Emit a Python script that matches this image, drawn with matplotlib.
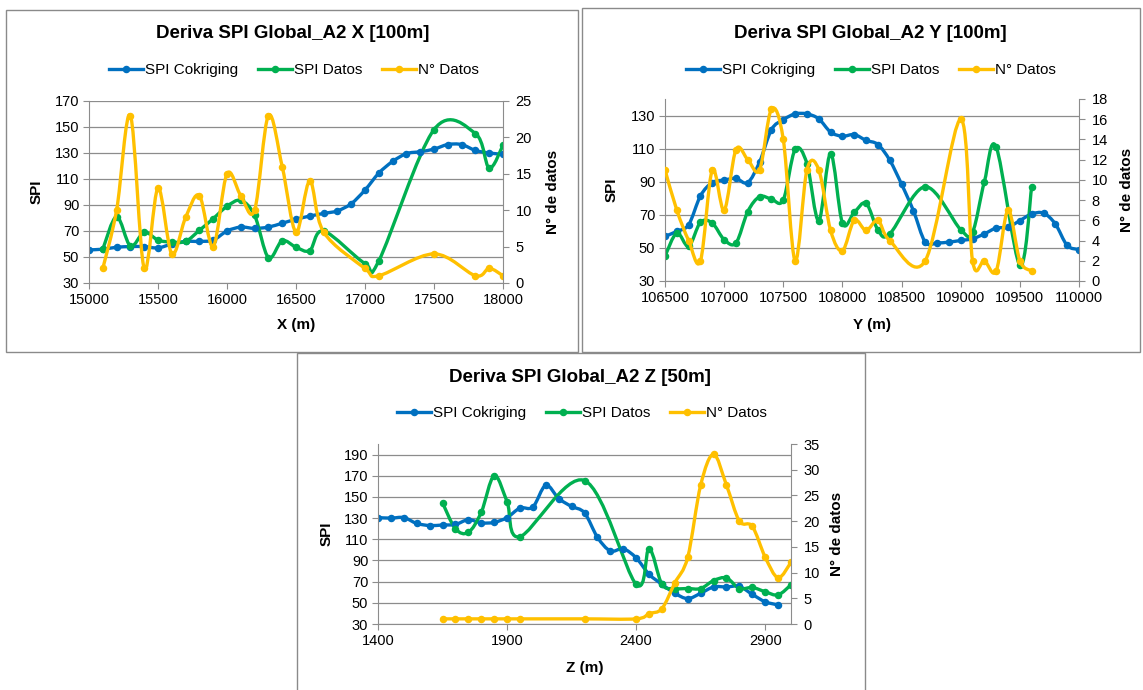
import numpy as np
import matplotlib
matplotlib.use('Agg')
import matplotlib.pyplot as plt
from matplotlib.path import Path
from matplotlib.patches import PathPatch, Rectangle
from matplotlib.lines import Line2D

plt.rcParams['font.family'] = ['Liberation Sans', 'DejaVu Sans']

BLUE = '#0070C0'
GREEN = '#00B050'
YELLOW = '#FFC000'
GRID = '#8c8c8c'
W, H = 1143, 690

# --- Deriva X [100m] ---
x_cok = [15000, 15100, 15200, 15300, 15400, 15500, 15600, 15700, 15800, 15900,
         16000, 16100, 16200, 16300, 16400, 16500, 16600, 16700, 16800, 16900,
         17000, 17100, 17200, 17300, 17400, 17500, 17600, 17700, 17800, 17900, 18000]
x_spi_cok = [55.5, 56, 57.5, 58, 58, 57, 60, 62, 62, 63,
             70, 73, 72, 73, 76, 79, 81.5, 83.5, 85.5, 91,
             101.5, 114.5, 123.5, 129.5, 131, 133, 136.5, 136.5, 132, 130, 129]
x_dat = [15100, 15200, 15300, 15400, 15500, 15600, 15700, 15800, 15900, 16000,
         16100, 16200, 16300, 16400, 16500, 16600, 16700, 17000, 17100, 17500,
         17800, 17900, 18000]
x_spi_dat = [56, 81, 58.5, 69, 63, 61.5, 62, 70.5, 79.5, 89,
             93.5, 82, 49.5, 62.5, 57.5, 55, 70, 45, 47, 148,
             145, 118.5, 136]
x_n_dat = [2, 10, 23, 2, 13, 4, 9, 12, 5, 15,
           12, 10, 23, 16, 7, 14, 7, 2, 1, 4,
           1, 2, 1]

# --- Deriva Y [100m] ---
y_cok = [106500, 106600, 106700, 106800, 106900, 107000, 107100, 107200, 107300, 107400,
         107500, 107600, 107700, 107800, 107900, 108000, 108100, 108200, 108300, 108400,
         108500, 108600, 108700, 108800, 108900, 109000, 109100, 109200, 109300, 109400,
         109500, 109600, 109700, 109800, 109900, 110000]
y_spi_cok = [57, 60, 64, 81.5, 89.5, 91, 92, 89.5, 102, 121.5,
             127.5, 131, 131, 128, 120, 117.5, 118.5, 115, 112.5, 103,
             88.5, 72.5, 53.5, 53, 53.5, 54.5, 55.5, 58.5, 62, 62.5,
             66.5, 70.5, 71, 64.5, 51.5, 49]
y_dat = [106500, 106600, 106700, 106800, 106900, 107000, 107100, 107200, 107300, 107400,
         107500, 107600, 107700, 107800, 107900, 108000, 108100, 108200, 108300, 108400,
         108700, 109000, 109100, 109200, 109300, 109500, 109600]
y_spi_dat = [45, 59, 51, 65.5, 65, 55, 53, 72, 81, 79.5,
             79, 109.5, 101, 66.5, 107, 65, 71.5, 77, 61, 58.5,
             87, 61, 59.5, 90, 111, 39.5, 87]
y_n_x = [106500, 106600, 106700, 106800, 106900, 107000, 107100, 107200, 107300, 107400,
         107500, 107600, 107700, 107800, 107900, 108000, 108100, 108200, 108300, 108400,
         108700, 109000, 109100, 109200, 109300, 109400, 109500, 109600]
y_n_dat = [11, 7, 4, 2, 11, 7, 13, 12, 11, 17,
           14, 2, 11, 11, 5, 3, 6, 5, 6, 4,
           2, 16, 2, 2, 1, 7, 2, 1]

# --- Deriva Z [50m] ---
z_cok = [1400, 1450, 1500, 1550, 1600, 1650, 1700, 1750, 1800, 1850,
         1900, 1950, 2000, 2050, 2100, 2150, 2200, 2250, 2300, 2350,
         2400, 2450, 2500, 2550, 2600, 2650, 2700, 2750, 2800, 2850, 2900, 2950]
z_spi_cok = [130.5, 130, 130.5, 125, 123, 123.5, 124, 128.5, 125.5, 126,
             130.5, 139.5, 140.5, 161, 148.5, 141, 135, 112, 99, 101,
             92.5, 77, 67.5, 59, 54, 59, 65, 65, 65.5, 58, 51, 48]
z_dat = [1650, 1700, 1750, 1800, 1850, 1900, 1950, 2200, 2400, 2450,
         2500, 2550, 2600, 2650, 2700, 2750, 2800, 2850, 2900, 2950, 3000]
z_spi_dat = [144.5, 120, 116.5, 135.5, 170, 145.5, 112.5, 165.5, 67.5, 101,
             67.5, 63.5, 63.5, 63.5, 71, 73.5, 63.5, 64.5, 60.5, 57.5, 67]
z_n_dat = [1, 1, 1, 1, 1, 1, 1, 1, 1, 2,
           3, 8, 13, 27, 33, 27, 20, 19, 13, 9, 12]


def smooth_path(xs, ys):
    # curva suavizada tipo Excel (Catmull-Rom -> Bezier)
    pts = np.column_stack([xs, ys]).astype(float)
    n = len(pts)
    verts = [pts[0]]
    codes = [Path.MOVETO]
    for i in range(n - 1):
        p0 = pts[i - 1] if i > 0 else pts[i]
        p1 = pts[i]
        p2 = pts[i + 1]
        p3 = pts[i + 2] if i + 2 < n else pts[i + 1]
        verts += [p1 + (p2 - p0) / 6.0, p2 - (p3 - p1) / 6.0, p2]
        codes += [Path.CURVE4] * 3
    return Path(verts, codes)


def draw_series(ax, xs, ys, color):
    ax.add_patch(PathPatch(smooth_path(xs, ys), facecolor='none', edgecolor=color,
                           lw=2.4, capstyle='round', joinstyle='round'))
    ax.plot(xs, ys, linestyle='none', marker='o', ms=4.4, color=color)


def px_box(fig, x0, y0, x1, y1):
    fig.patches.append(Rectangle((x0 / W, 1 - y1 / H), (x1 - x0) / W, (y1 - y0) / H,
                                 transform=fig.transFigure, fill=False,
                                 edgecolor='#8a8a8a', lw=1.0))


def make_panel(fig, rect, title, tpos, lpos, xlabel, xlim, xticks, ylim, yticks,
               y2lim, y2ticks, cok, dat, ndat, lbl_x):
    l, t, r, b = rect
    ax = fig.add_axes([l / W, 1 - b / H, (r - l) / W, (b - t) / H])
    ax2 = ax.twinx()
    ax.set_xlim(*xlim)
    ax.set_ylim(*ylim)
    ax2.set_ylim(*y2lim)
    ax.set_xticks(xticks)
    ax.set_yticks(yticks)
    ax2.set_yticks(y2ticks)
    ax.yaxis.grid(True, color=GRID, lw=0.9)
    ax.set_axisbelow(True)

    for a in (ax, ax2):
        for s in a.spines.values():
            s.set_color(GRID)
        a.spines['top'].set_visible(False)
    ax.spines['right'].set_visible(False)
    ax2.spines['left'].set_visible(False)
    ax2.spines['bottom'].set_visible(False)
    ax.tick_params(axis='both', direction='out', length=4, color=GRID, labelsize=10.5, pad=3)
    ax2.tick_params(axis='y', direction='out', length=4, color=GRID, labelsize=10.5, pad=5)

    draw_series(ax, cok[0], cok[1], BLUE)
    draw_series(ax, dat[0], dat[1], GREEN)
    draw_series(ax2, ndat[0], ndat[1], YELLOW)

    ax.set_xlabel(xlabel, fontsize=11, fontweight='bold', va='center')
    ax.xaxis.set_label_coords(0.5, lbl_x[2])
    ax.set_ylabel('SPI', fontsize=11, fontweight='bold', va='center')
    ax.yaxis.set_label_coords(lbl_x[0], 0.5)
    ax2.set_ylabel('N° de datos', fontsize=11, fontweight='bold', va='center')
    ax2.yaxis.set_label_coords(lbl_x[1], 0.5)

    fig.text(tpos[0] / W, 1 - tpos[1] / H, title, ha='center', va='center',
             fontsize=13.5, fontweight='bold')
    handles = [Line2D([], [], color=BLUE, lw=2.4, marker='o', ms=4.4),
               Line2D([], [], color=GREEN, lw=2.4, marker='o', ms=4.4),
               Line2D([], [], color=YELLOW, lw=2.4, marker='o', ms=4.4)]
    fig.legend(handles, ['SPI Cokriging', 'SPI Datos', 'N° Datos'], loc='center',
               bbox_to_anchor=(lpos[0] / W, 1 - lpos[1] / H), ncol=3, frameon=False,
               fontsize=11, handlelength=2.2, handletextpad=0.15, columnspacing=1.3,
               numpoints=1)
    return ax, ax2


fig = plt.figure(figsize=(W / 100, H / 100), dpi=100)
fig.patch.set_facecolor('white')

px_box(fig, 6, 10, 578, 352)
px_box(fig, 582, 8, 1140, 352)
px_box(fig, 297, 353, 865, 700)

make_panel(fig, (89, 101, 503, 283), 'Deriva SPI Global_A2 X [100m]', (293, 33), (294, 70),
           'X (m)', (15000, 18000), [15000, 15500, 16000, 16500, 17000, 17500, 18000],
           (30, 170), [30, 50, 70, 90, 110, 130, 150, 170], (0, 25), [0, 5, 10, 15, 20, 25],
           (x_cok, x_spi_cok), (x_dat, x_spi_dat), (x_dat, x_n_dat), (-0.126, 1.121, -0.231))

make_panel(fig, (665, 99, 1079, 281), 'Deriva SPI Global_A2 Y [100m]', (870, 33), (871, 70),
           'Y (m)', (106500, 110000),
           [106500, 107000, 107500, 108000, 108500, 109000, 109500, 110000],
           (30, 140), [30, 50, 70, 90, 110, 130], (0, 18), [0, 2, 4, 6, 8, 10, 12, 14, 16, 18],
           (y_cok, y_spi_cok), (y_dat, y_spi_dat), (y_n_x, y_n_dat), (-0.128, 1.116, -0.242))

make_panel(fig, (378, 444, 791, 624), 'Deriva SPI Global_A2 Z [50m]', (580, 378), (582, 413),
           'Z (m)', (1400, 3000), [1400, 1900, 2400, 2900],
           (30, 200), [30, 50, 70, 90, 110, 130, 150, 170, 190], (0, 35),
           [0, 5, 10, 15, 20, 25, 30, 35],
           (z_cok, z_spi_cok), (z_dat, z_spi_dat), (z_dat, z_n_dat), (-0.1235, 1.111, -0.244))

fig.savefig('out.png', dpi=100)
